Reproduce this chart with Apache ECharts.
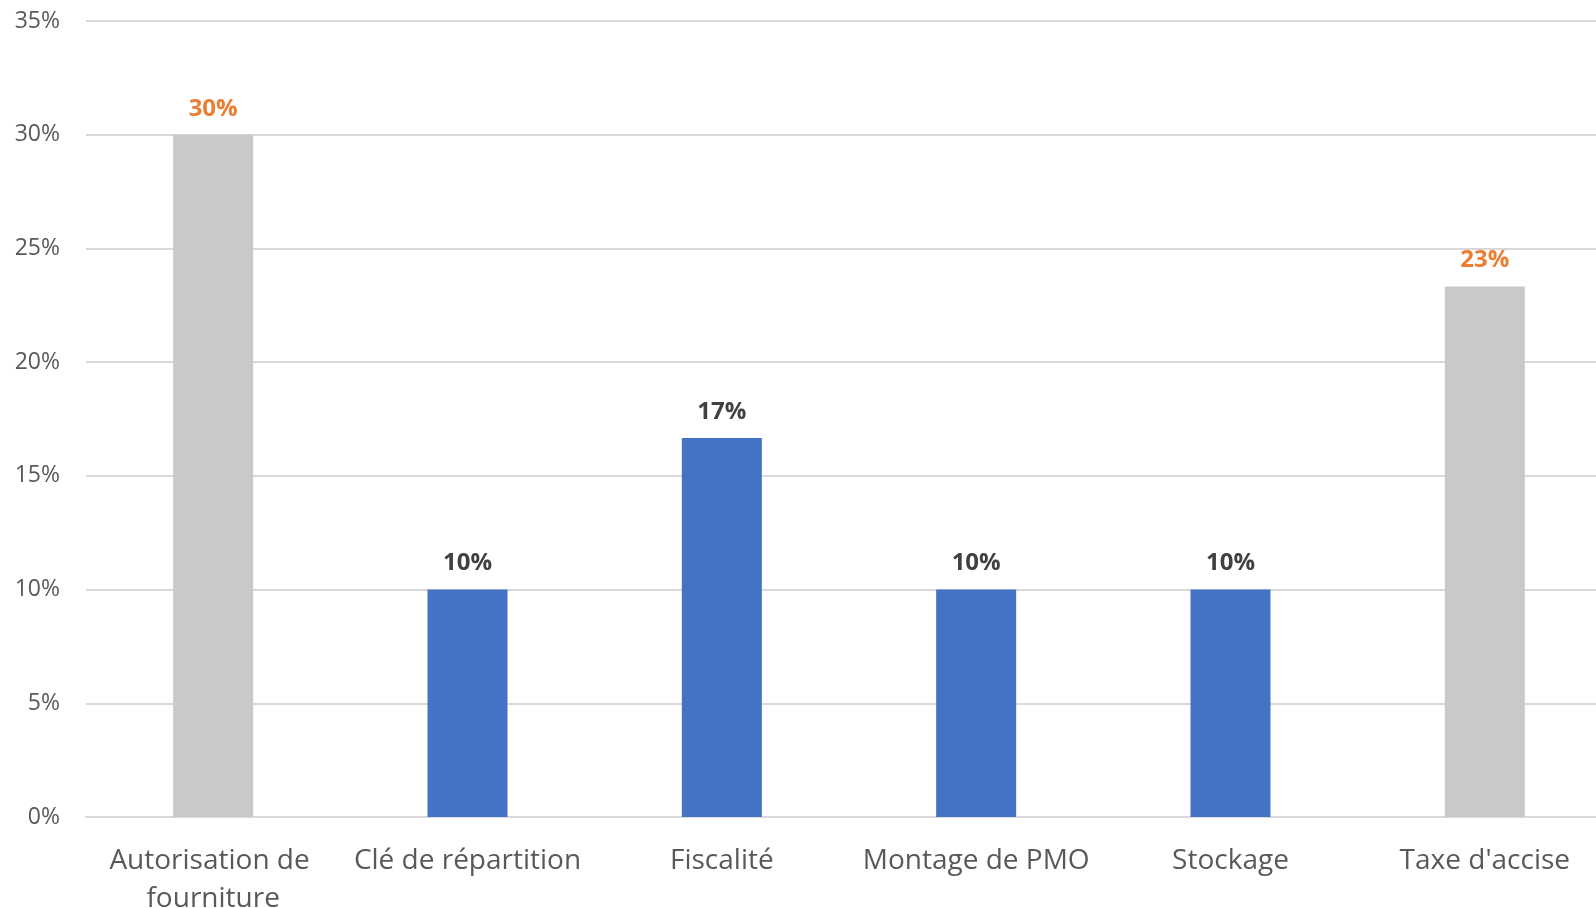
<!DOCTYPE html>
<html>
<head>
<meta charset="utf-8">
<script src="https://cdn.jsdelivr.net/npm/echarts@6/dist/echarts.min.js"></script>
<style>
html,body{margin:0;padding:0;background:#fff;overflow:hidden;}
#chart{width:1596px;height:908px;}
</style>
</head>
<body>
<div id="chart"></div>
<script>
const categories = ["Autorisation de fourniture", "Clé de répartition", "Fiscalité", "Montage de PMO", "Stockage", "Taxe d'accise"];
const values = [30.0, 10.0, 16.67, 10.0, 10.0, 23.33];
const highlighted = [true, false, false, false, false, true];
const yTicks = { min: 0, max: 35, interval: 5 };

const chart = echarts.init(document.getElementById('chart'), null, { renderer: 'canvas' });
const data = values.map((v, i) => ({
  value: v,
  itemStyle: { color: highlighted[i] ? '#C9C9C9' : '#4472C4' },
  label: { color: highlighted[i] ? '#ED7D31' : '#404040' }
}));
chart.setOption({
  animation: false,
  grid: { left: 86, top: 21, right: -16, bottom: 91, containLabel: false, outerBoundsMode: 'none' },
  xAxis: {
    type: 'category',
    data: categories,
    axisTick: { show: false },
    axisLine: { lineStyle: { color: '#D9D9D9', width: 2 } },
    axisLabel: {
      interval: 0,
      margin: 25,
      color: '#595959',
      fontFamily: 'Open Sans',
      fontSize: 28,
      lineHeight: 38,
      width: 280,
      overflow: 'break',
      hideOverlap: false
    }
  },
  yAxis: {
    type: 'value',
    min: yTicks.min,
    max: yTicks.max,
    interval: yTicks.interval,
    axisLine: { show: false },
    axisTick: { show: false },
    splitLine: { lineStyle: { color: '#D9D9D9', width: 2 } },
    axisLabel: {
      formatter: '{value}%',
      margin: 26,
      color: '#595959',
      fontFamily: 'Open Sans',
      fontSize: 23
    }
  },
  series: [{
    type: 'bar',
    data: data,
    barWidth: 80,
    label: {
      show: true,
      position: 'top',
      distance: 14,
      fontFamily: 'Open Sans',
      fontWeight: 'bold',
      fontSize: 24,
      formatter: p => Math.round(p.value) + '%'
    }
  }]
});
</script>
</body>
</html>
